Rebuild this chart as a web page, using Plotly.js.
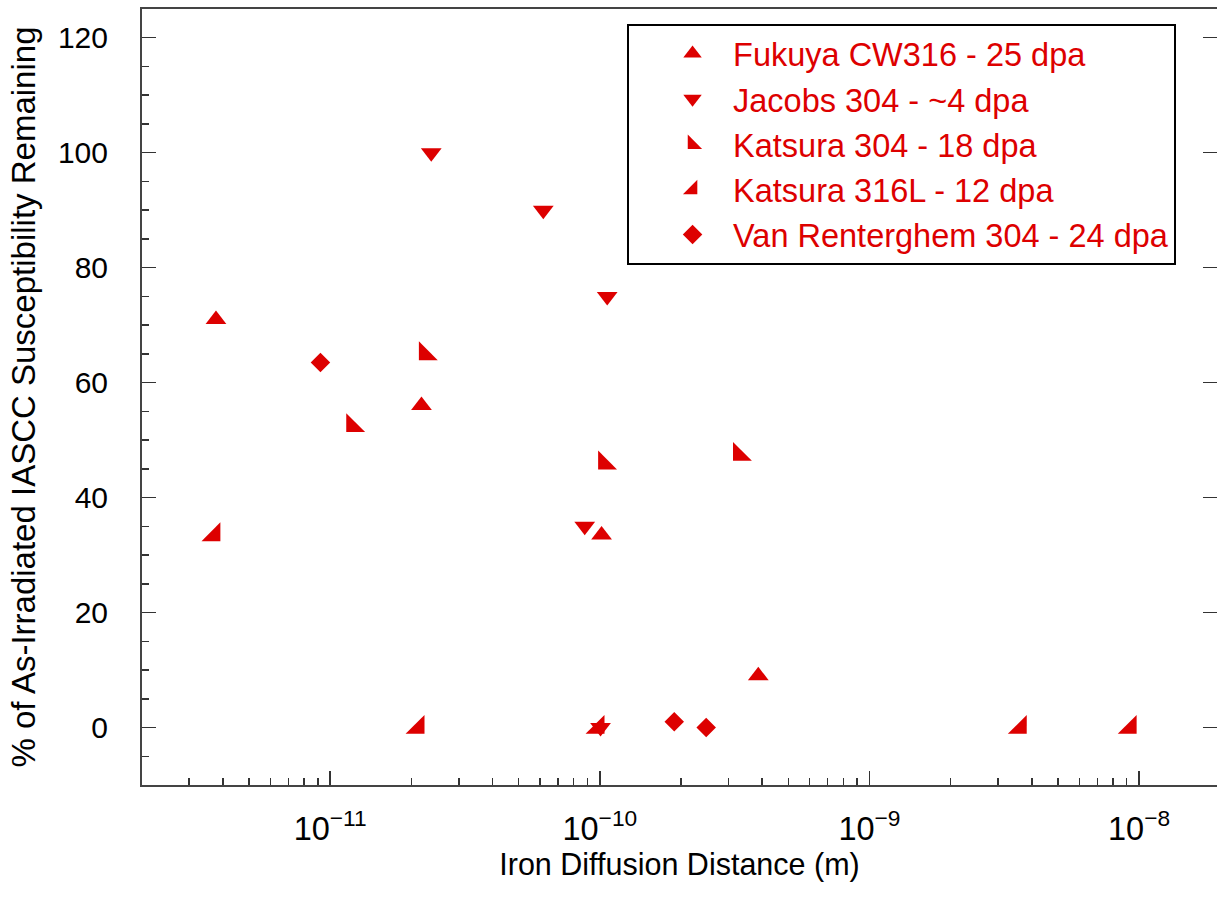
<!DOCTYPE html>
<html><head><meta charset="utf-8">
<script src="https://cdn.plot.ly/plotly-3.0.1.min.js"></script>
<style>html,body{margin:0;padding:0;background:#fff;overflow:hidden}#chart{width:1217px;height:914px}</style>
</head><body><div id="chart"></div>
<script>
// Series names
const seriesNames = [
  'Fukuya CW316 - 25 dpa',
  'Jacobs 304 - ~4 dpa',
  'Katsura 304 - 18 dpa',
  'Katsura 316L - 12 dpa',
  'Van Renterghem 304 - 24 dpa'
];
// Iron diffusion distance (m) and % susceptibility remaining
const fukuyaX = [3.77e-12, 2.18e-11, 1.015e-10, 3.87e-10];
const fukuyaY = [71, 56, 33.5, 9];
const jacobsX = [2.37e-11, 6.17e-11, 1.065e-10, 8.79e-11, 1.006e-10];
const jacobsY = [100, 90, 75, 35, 0];
const katsura304X = [1.21e-11, 2.25e-11, 1.04e-10, 3.29e-10];
const katsura304Y = [52.5, 65, 46, 47.5];
const katsura316X = [3.71e-12, 2.12e-11, 9.86e-11, 3.63e-9, 9.28e-9];
const katsura316Y = [33.5, 0, 0, 0, 0];
const vanRX = [9.2e-12, 1.888e-10, 2.48e-10];
const vanRY = [63.5, 1, 0];

const red = '#dd0000';
const mk = (name, x, y, symbol, size) => ({
  name: name, x: x, y: y, type: 'scatter', mode: 'markers',
  marker: {symbol: symbol, size: size, color: red, line: {width: 0}}
});
const traces = [
  mk(seriesNames[0], fukuyaX, fukuyaY, 'triangle-up', 18),
  mk(seriesNames[1], jacobsX, jacobsY, 'triangle-down', 18),
  mk(seriesNames[2], katsura304X, katsura304Y, 'triangle-sw', 21),
  mk(seriesNames[3], katsura316X, katsura316Y, 'triangle-se', 21),
  mk(seriesNames[4], vanRX, vanRY, 'diamond', 15),
  {x: [], y: [], yaxis: 'y2', type: 'scatter', mode: 'markers', showlegend: false, hoverinfo: 'skip'}
];
const fam = 'Liberation Sans, Arial, sans-serif';
const layout = {
  width: 1217, height: 914,
  margin: {l: 142, r: 0, t: 9, b: 129},
  paper_bgcolor: '#fff', plot_bgcolor: '#fff',
  font: {family: fam, color: '#000', size: 30},
  showlegend: true,
  xaxis: {
    type: 'log', range: [-11.698, -7.711], dtick: 1, exponentformat: 'power',
    showgrid: false, zeroline: false,
    ticks: 'inside', ticklen: 14, tickwidth: 1.5, tickcolor: '#333',
    showline: true, linecolor: '#444', linewidth: 2, mirror: true,
    minor: {dtick: 'D1', ticks: 'inside', ticklen: 7, tickwidth: 1.5, tickcolor: '#333', showgrid: false},
    tickfont: {size: 26, family: fam}, ticklabelstandoff: 15,
    title: {text: 'Iron Diffusion Distance (m)', font: {size: 30.5, family: fam}, standoff: 4}
  },
  yaxis: {
    range: [-10, 125], dtick: 20, tick0: 0,
    showgrid: false, zeroline: false,
    ticks: 'inside', ticklen: 14, tickwidth: 1.5, tickcolor: '#333',
    showline: true, linecolor: '#444', linewidth: 2, mirror: true,
    minor: {dtick: 5, tick0: 0, ticks: 'inside', ticklen: 7, tickwidth: 1.5, tickcolor: '#333', showgrid: false},
    tickfont: {size: 30, family: fam}, ticklabelstandoff: 26,
    title: {text: '% of As-Irradiated IASCC Susceptibility Remaining', font: {size: 33, family: fam}, standoff: 12}
  },
  yaxis2: {
    overlaying: 'y', side: 'right', range: [-10, 125], dtick: 20, tick0: 0,
    ticks: 'inside', ticklen: 14, tickwidth: 1.5, tickcolor: '#333',
    showticklabels: false, showgrid: false, zeroline: false, showline: false
  },
  legend: {
    x: 0.4512, y: 0.9807, xanchor: 'left', yanchor: 'top',
    bgcolor: '#fff', bordercolor: '#000', borderwidth: 2,
    font: {size: 32.5, color: red, family: fam},
    itemwidth: 71, indentation: 23,
    entrywidth: 535, entrywidthmode: 'pixels'
  }
};
Plotly.newPlot('chart', traces, layout, {displayModeBar: false, staticPlot: true});
</script>
</body></html>
